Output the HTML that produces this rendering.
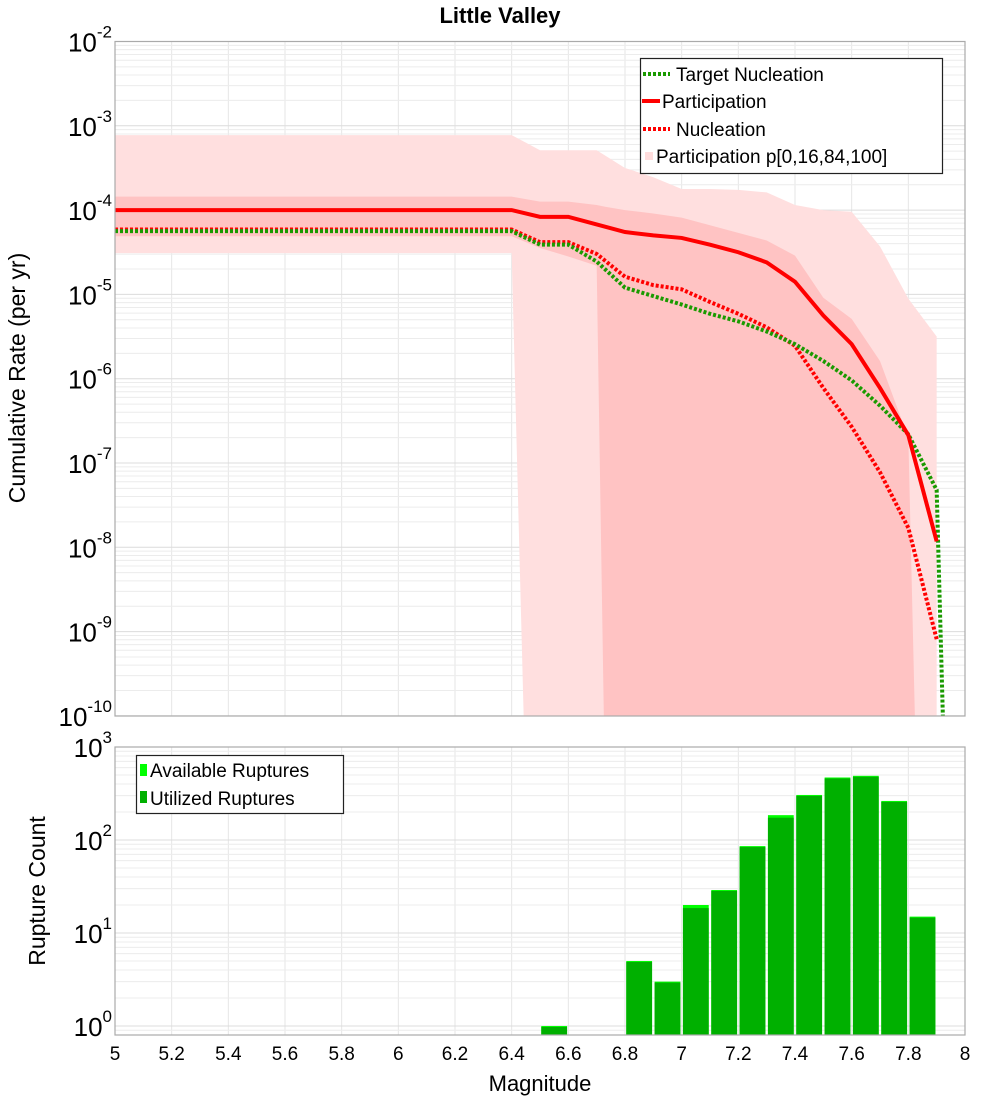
<!DOCTYPE html>
<html><head><meta charset="utf-8"><style>
html,body{margin:0;padding:0;background:#fff}
svg{display:block;font-family:"Liberation Sans","DejaVu Sans",sans-serif}
</style></head><body>
<svg id="chart" width="1000" height="1100" viewBox="0 0 1000 1100" xmlns="http://www.w3.org/2000/svg">
<defs>
<clipPath id="clipTop"><rect x="115" y="41.5" width="850" height="674.5"/></clipPath>
<clipPath id="clipBot"><rect x="115" y="747" width="850" height="288"/></clipPath>
</defs>
<text x="500" y="23" text-anchor="middle" font-size="22" font-weight="bold">Little Valley</text>
<g id="gridTop"></g>
<g id="gridBot"></g>
<g id="bands" clip-path="url(#clipTop)"></g>
<g id="lines" clip-path="url(#clipTop)"></g>
<g id="bars" clip-path="url(#clipBot)"></g>
<rect x="115" y="41.5" width="850" height="674.5" fill="none" stroke="#aaa" stroke-width="1.2"/>
<rect x="115" y="747" width="850" height="288" fill="none" stroke="#aaa" stroke-width="1.2"/>
<g id="labels"></g>
<text transform="translate(25,378) rotate(-90)" text-anchor="middle" font-size="23">Cumulative Rate (per yr)</text>
<text transform="translate(45,891) rotate(-90)" text-anchor="middle" font-size="23">Rupture Count</text>
<text x="540" y="1091" text-anchor="middle" font-size="22">Magnitude</text>
<g>
<rect x="640.5" y="58.5" width="302" height="115" fill="#fff" stroke="#222" stroke-width="1.2"/>
<line x1="643" y1="74" x2="670" y2="74" stroke="#1a9a00" stroke-width="4" stroke-dasharray="3,2"/>
<text x="676" y="81" font-size="19">Target Nucleation</text>
<line x1="642" y1="101" x2="660" y2="101" stroke="#f00" stroke-width="4"/>
<text x="662" y="108" font-size="19">Participation</text>
<line x1="643" y1="129" x2="670" y2="129" stroke="#f00" stroke-width="4" stroke-dasharray="3,2"/>
<text x="676" y="136" font-size="19">Nucleation</text>
<rect x="645" y="152" width="8" height="8" fill="#fdd"/>
<text x="656" y="163" font-size="19">Participation p[0,16,84,100]</text>
</g>
<g>
<rect x="136.5" y="755.5" width="207" height="58" fill="#fff" stroke="#222" stroke-width="1.2"/>
<rect x="140" y="764" width="7" height="12" fill="#00ff00"/>
<text x="150" y="777" font-size="19">Available Ruptures</text>
<rect x="140" y="791" width="7" height="12" fill="#00b000"/>
<text x="150" y="805" font-size="19">Utilized Ruptures</text>
</g>
</svg>
<script>
// ---- data ----
const mags = [5.0,6.4,6.5,6.6,6.7,6.8,6.9,7.0,7.1,7.2,7.3,7.4,7.5,7.6,7.7,7.8,7.9];
const participationLog = [-4.00,-4.00,-4.08,-4.08,-4.17,-4.26,-4.30,-4.33,-4.41,-4.50,-4.62,-4.85,-5.25,-5.59,-6.11,-6.67,-7.93];
const nucleationLog = [-4.23,-4.23,-4.38,-4.38,-4.52,-4.79,-4.89,-4.94,-5.09,-5.23,-5.39,-5.61,-6.11,-6.57,-7.11,-7.77,-9.09];
const targetMags = [5.0,6.4,6.5,6.6,6.7,6.8,6.9,7.0,7.1,7.2,7.3,7.4,7.5,7.6,7.7,7.8,7.9,7.93];
const targetLog = [-4.25,-4.25,-4.41,-4.41,-4.61,-4.92,-5.02,-5.12,-5.23,-5.32,-5.44,-5.59,-5.79,-6.02,-6.32,-6.66,-7.32,-11];
const outerMags = [5.0,6.4,6.45,6.5,6.6,6.7,6.8,6.9,7.0,7.1,7.2,7.3,7.4,7.5,7.6,7.7,7.8,7.9];
const outerUpperLog = [-3.11,-3.11,-3.2,-3.29,-3.29,-3.29,-3.50,-3.61,-3.75,-3.75,-3.76,-3.79,-3.94,-4.00,-4.02,-4.43,-5.05,-5.50];
const outerLowerLog = [-4.51,-4.51,-11,-11,-11,-11,-11,-11,-11,-11,-11,-11,-11,-11,-11,-11,-11,-11];
const innerMags = [5.0,6.4,6.5,6.6,6.7,6.73,6.8,6.9,7.0,7.1,7.2,7.3,7.4,7.5,7.6,7.7,7.8,7.83];
const innerUpperLog = [-3.84,-3.84,-3.90,-3.90,-3.94,-3.96,-4.00,-4.04,-4.09,-4.18,-4.27,-4.36,-4.54,-5.04,-5.29,-5.79,-6.70,-11];
const innerLowerLog = [-4.31,-4.31,-4.45,-4.55,-4.66,-11,-11,-11,-11,-11,-11,-11,-11,-11,-11,-11,-11,-11];
const barMags = [6.55,6.85,6.95,7.05,7.15,7.25,7.35,7.45,7.55,7.65,7.75,7.85];
const availableCounts = [1,5,3,20,29,86,185,305,470,490,263,15];
const utilizedCounts = [1,5,3,19,29,86,178,305,470,490,263,15];
const xTicks = [5,5.2,5.4,5.6,5.8,6,6.2,6.4,6.6,6.8,7,7.2,7.4,7.6,7.8,8];
const topYExps = [-2,-3,-4,-5,-6,-7,-8,-9,-10];
const botYExps = [0,1,2,3];

// ---- axes ----
const X = m => 115 + (m - 5) * (850 / 3);
const YT = lg => 41.5 + (-2 - lg) * 84.3;
const YB = lg => 1026 - lg * 93;
const NS = 'http://www.w3.org/2000/svg';
function mk(tag, attrs, parent) {
  const e = document.createElementNS(NS, tag);
  for (const k in attrs) e.setAttribute(k, attrs[k]);
  parent.appendChild(e);
  return e;
}
const gT = document.getElementById('gridTop'), gB = document.getElementById('gridBot');
const lab = document.getElementById('labels');
// vertical grid
xTicks.forEach(t => {
  const a = mk('line', {x1: X(t), x2: X(t), y1: 41.5, y2: 716, stroke: '#e6e6e6'}, gT);
  
  
  const b = mk('line', {x1: X(t), x2: X(t), y1: 747, y2: 1035, stroke: '#e6e6e6'}, gB);
  
  
  const tx = mk('text', {x: X(t), y: 1060, 'text-anchor': 'middle', 'font-size': 19}, lab);
  tx.textContent = String(t);
  
  
});
// horizontal grid top
for (let d = -10; d < -2; d++) {
  for (let k = 1; k <= 9; k++) {
    const lg = d + Math.log10(k);
    const l = mk('line', {x1: 115, x2: 965, y1: YT(lg), y2: YT(lg), stroke: k === 1 ? '#dcdcdc' : '#ececec'}, gT);
    
    
  }
}
for (let d = -1; d < 3; d++) {
  for (let k = 1; k <= 9; k++) {
    const lg = d + Math.log10(k);
    if (lg < -0.1) continue;
    const l = mk('line', {x1: 115, x2: 965, y1: YB(lg), y2: YB(lg), stroke: k === 1 ? '#dcdcdc' : '#ececec'}, gB);
    
    
  }
}
function expLabel(y, e, name) {
  const t = mk('text', {x: 112, y: y + 10, 'text-anchor': 'end', 'font-size': 26}, lab);
  const s1 = mk('tspan', {}, t); s1.textContent = '10';
  const s2 = mk('tspan', {dy: -14, 'font-size': 17}, t); s2.textContent = String(e);
  
  
}
topYExps.forEach(e => expLabel(YT(e), e, 'top-y-tick-label'));
botYExps.forEach(e => expLabel(YB(e), e, 'bottom-y-tick-label'));

// ---- bands ----
const bandG = document.getElementById('bands');
function band(ms, up, lo, fill, name) {
  let d = '';
  ms.forEach((m, i) => { d += (i ? 'L' : 'M') + X(m) + ',' + YT(up[i]); });
  for (let i = ms.length - 1; i >= 0; i--) d += 'L' + X(ms[i]) + ',' + YT(lo[i]);
  const p = mk('path', {d: d + 'Z', fill: fill}, bandG);
  
  
}
band(outerMags, outerUpperLog, outerLowerLog, '#ffdfdf', 'band-p0-p100');
band(innerMags, innerUpperLog, innerLowerLog, '#ffc3c3', 'band-p16-p84');

// ---- lines ----
const lineG = document.getElementById('lines');
function line(ms, vals, color, dash, name) {
  const pts = ms.map((m, i) => X(m) + ',' + YT(vals[i])).join(' ');
  const a = {points: pts, fill: 'none', stroke: color, 'stroke-width': 4};
  if (dash) a['stroke-dasharray'] = dash;
  const p = mk('polyline', a, lineG);
  
  
}
line(mags, nucleationLog, '#ff0000', '3,2', 'nucleation-line');
line(targetMags, targetLog, '#1a9a00', '3,2', 'target-nucleation-line');
line(mags, participationLog, '#ff0000', null, 'participation-line');

// ---- bars ----
const barG = document.getElementById('bars');
const bw = 0.091 * (850 / 3);
barMags.forEach((m, i) => {
  const x = X(m) - bw / 2;
  const ya = YB(Math.log10(availableCounts[i]));
  const a = mk('rect', {x: x, y: ya, width: bw, height: 1040 - ya, fill: '#00ff00'}, barG);
  
  
  const yu = YB(Math.log10(utilizedCounts[i]));
  const u = mk('rect', {x: x, y: yu + 1, width: bw, height: 1040 - yu, fill: '#00b000'}, barG);
  
  
});
</script>
</body></html>
